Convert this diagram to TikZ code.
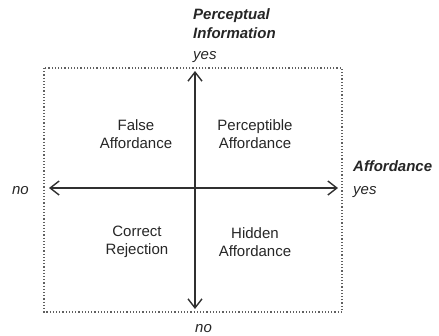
\documentclass[tikz,border=0pt]{standalone}
\usepackage{fontspec}
\setmainfont{Liberation Sans}
\usetikzlibrary{arrows.meta}
\definecolor{axisgray}{HTML}{303030}
\definecolor{boxgray}{HTML}{606060}
\definecolor{textgray}{HTML}{262626}

\begin{document}
\begin{tikzpicture}[x=1pt,y=-1pt,
    axis/.style={draw=axisgray, line width=1.4pt,
      {Straight Barb[length=9pt,width=14pt,line width=1.4pt]}-{Straight Barb[length=9pt,width=14pt,line width=1.4pt]}},
    quad/.style={align=center, inner sep=0pt, text=textgray, font=\fontsize{15}{18}\selectfont},
    lab/.style={inner sep=0pt, text=textgray, font=\fontsize{15}{19}\selectfont\itshape},
    heading/.style={lab, align=left, font=\fontsize{15}{19}\selectfont\bfseries\itshape}]
    \useasboundingbox (0,0) rectangle (439,335);

    % Riquadro
    \coordinate (NW) at (44,68);
    \coordinate (SE) at (342,312);
    \draw[boxgray, dotted, line width=1.2pt] (NW) rectangle (SE);

    % Asse verticale
    \coordinate (top) at (195,71);
    \coordinate (bottom) at (195,309);
    \draw[axis] (bottom) -- (top);

    % Asse orizzontale
    \coordinate (left) at (49,188);
    \coordinate (right) at (338,188);
    \draw[axis] (left) -- (right);

    % Etichette assi
    \node[heading, anchor=west] (perc) at (193,23.5) {Perceptual\\Information};
    \node[lab, anchor=base west] (percyes) at (193,59) {yes};
    \node[lab, anchor=base west] (percno) at (195,332) {no};
    \node[heading, anchor=base west] (aff) at (353,171) {Affordance};
    \node[lab, anchor=base west] (affyes) at (353,194) {yes};
    \node[lab, anchor=base east] (affno) at (29,194) {no};

    % Quadranti
    \node[quad] (false) at (136,134) {False\\Affordance};
    \node[quad] (percept) at (255,134) {Perceptible\\Affordance};
    \node[quad] (reject) at (137,242) {Correct\\Rejection};
    \node[quad] (hidden) at (255,242) {Hidden\\Affordance};
\end{tikzpicture}
\end{document}
